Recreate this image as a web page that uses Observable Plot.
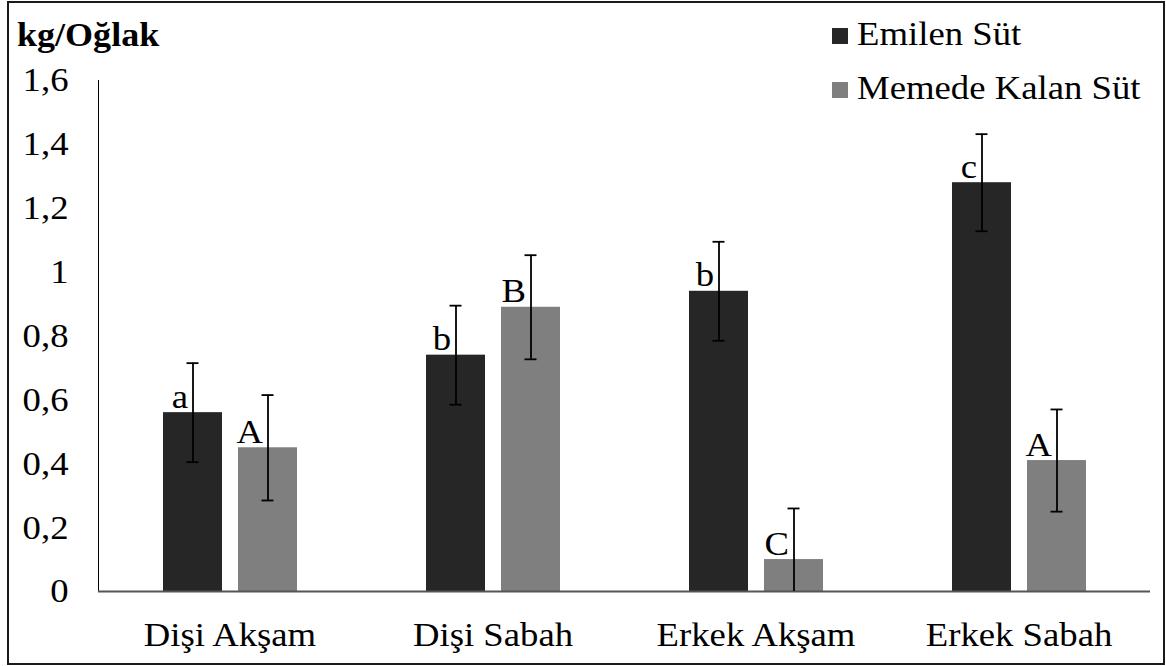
<!DOCTYPE html>
<html>
<head>
<meta charset="utf-8">
<script src="https://cdn.jsdelivr.net/npm/d3@7"></script>
<script src="https://cdn.jsdelivr.net/npm/@observablehq/plot@0.6"></script>
<style>
  body { margin: 0; background: #fff; }
  #wrap { position: relative; width: 1166px; height: 666px; overflow: hidden; background: #fff;
          font-family: "Liberation Serif", "Times New Roman", serif; color: #000; }
  #chart { position: absolute; left: 0; top: 0; }
  #frame { position: absolute; left: 7px; top: 1px; width: 1158px; height: 664px;
           border: 2px solid #1a1a1a; box-sizing: border-box; pointer-events: none; }
  #title { position: absolute; left: 17px; top: 18px; font-size: 34px; line-height: 34px; font-weight: bold;
           white-space: nowrap; transform: scaleX(1.06); transform-origin: 0 0; }
  .leg { position: absolute; left: 832px; font-size: 34px; line-height: 34px; white-space: nowrap; }
  .leg .sw { position: absolute; left: 0; width: 16px; height: 16px; }
  .leg .lab { position: absolute; left: 25px; top: 0; transform: scaleX(1.08); transform-origin: 0 0; }
</style>
</head>
<body>
<div id="wrap">
  <div id="chart"></div>
  <div id="title">kg/Oğlak</div>
  <div id="legend"></div>
  <div id="frame"></div>
</div>
<script>
// ---- data ----
const categories = ["Dişi Akşam", "Dişi Sabah", "Erkek Akşam", "Erkek Sabah"];
const series = ["Emilen Süt", "Memede Kalan Süt"];
const emilen = [0.56, 0.74, 0.94, 1.28];
const emilenErr = [0.155, 0.155, 0.155, 0.152];
const emilenLetters = ["a", "b", "b", "c"];
const memede = [0.45, 0.89, 0.10, 0.41];
const memedeErr = [0.165, 0.163, 0.16, 0.16];
const memedeLetters = ["A", "B", "C", "A"];
const yTicks = [0, 0.2, 0.4, 0.6, 0.8, 1, 1.2, 1.4, 1.6];
const yTickLabels = ["0", "0,2", "0,4", "0,6", "0,8", "1", "1,2", "1,4", "1,6"];
const colors = ["#262626", "#7f7f7f"];

// ---- table ----
const rows = [];
categories.forEach((c, i) => {
  rows.push({cat: c, series: series[0], value: emilen[i], err: emilenErr[i], letter: emilenLetters[i]});
  rows.push({cat: c, series: series[1], value: memede[i], err: memedeErr[i], letter: memedeLetters[i]});
});

const serif = "'Liberation Serif', 'Times New Roman', serif";

const plot = Plot.plot({
  width: 1166,
  height: 666,
  marginLeft: 98,
  marginRight: 16,
  marginTop: 80,
  marginBottom: 75,
  style: {fontFamily: serif, fontSize: "34px", color: "#000", background: "transparent", overflow: "visible"},
  fx: {domain: categories, padding: 0, label: null, tickSize: 0, tickPadding: 30, axis: "bottom"},
  x: {domain: series, paddingInner: 0.22, paddingOuter: 0.863, axis: null},
  y: {domain: [0, 1.6], ticks: yTicks, tickFormat: (d) => yTickLabels[yTicks.indexOf(d)], tickSize: 0, tickPadding: 30, line: true, label: null},
  color: {domain: series, range: colors},
  marks: [
    Plot.barY(rows, {fx: "cat", x: "series", y: "value", fill: "series"}),
    Plot.ruleY([0], {stroke: "#555", strokeWidth: 2}),
    Plot.ruleX(rows, {fx: "cat", x: "series", y1: d => d.value - d.err, y2: d => d.value + d.err, stroke: "#000", strokeWidth: 1.8, clip: true}),
    Plot.tickY(rows, {fx: "cat", x: "series", y: d => d.value + d.err, stroke: "#000", strokeWidth: 1.8, inset: 23.5}),
    Plot.tickY(rows, {fx: "cat", x: "series", y: d => d.value - d.err, stroke: "#000", strokeWidth: 1.8, inset: 23.5, clip: true}),
    Plot.text(rows, {fx: "cat", x: "series", y: "value", text: "letter", textAnchor: "end", lineAnchor: "bottom", dx: -5, dy: -5, fontSize: 34, fontFamily: serif, fill: "#000"})
  ]
});

// y-axis line colour
plot.querySelectorAll('g[aria-label*="y-axis"]').forEach(g => {
  if (!g.querySelector("text")) g.setAttribute("stroke", "#555");
});
plot.querySelectorAll('g[aria-label*="y-axis"] path, g[aria-label*="y-axis"] line').forEach(el => {
  el.setAttribute("stroke-width", "2");
});

// the reference's lettering is slightly wider than Liberation Serif: stretch text horizontally about its anchor
plot.querySelectorAll("text").forEach(t => {
  const ax = parseFloat(t.getAttribute("x")) || 0;
  const tr = t.getAttribute("transform") || "";
  t.setAttribute("transform", `${tr} translate(${ax},0) scale(1.08,1) translate(${-ax},0)`.trim());
});

document.getElementById("chart").appendChild(plot);

// legend
const legend = document.getElementById("legend");
const legTops = [16.5, 70.5];
series.forEach((s, i) => {
  const item = document.createElement("div");
  item.className = "leg";
  item.style.top = legTops[i] + "px";
  const sw = document.createElement("div");
  sw.className = "sw";
  sw.style.background = colors[i];
  sw.style.top = "11px";
  const lab = document.createElement("div");
  lab.className = "lab";
  lab.textContent = s;
  item.appendChild(sw);
  item.appendChild(lab);
  legend.appendChild(item);
});
</script>
</body>
</html>
